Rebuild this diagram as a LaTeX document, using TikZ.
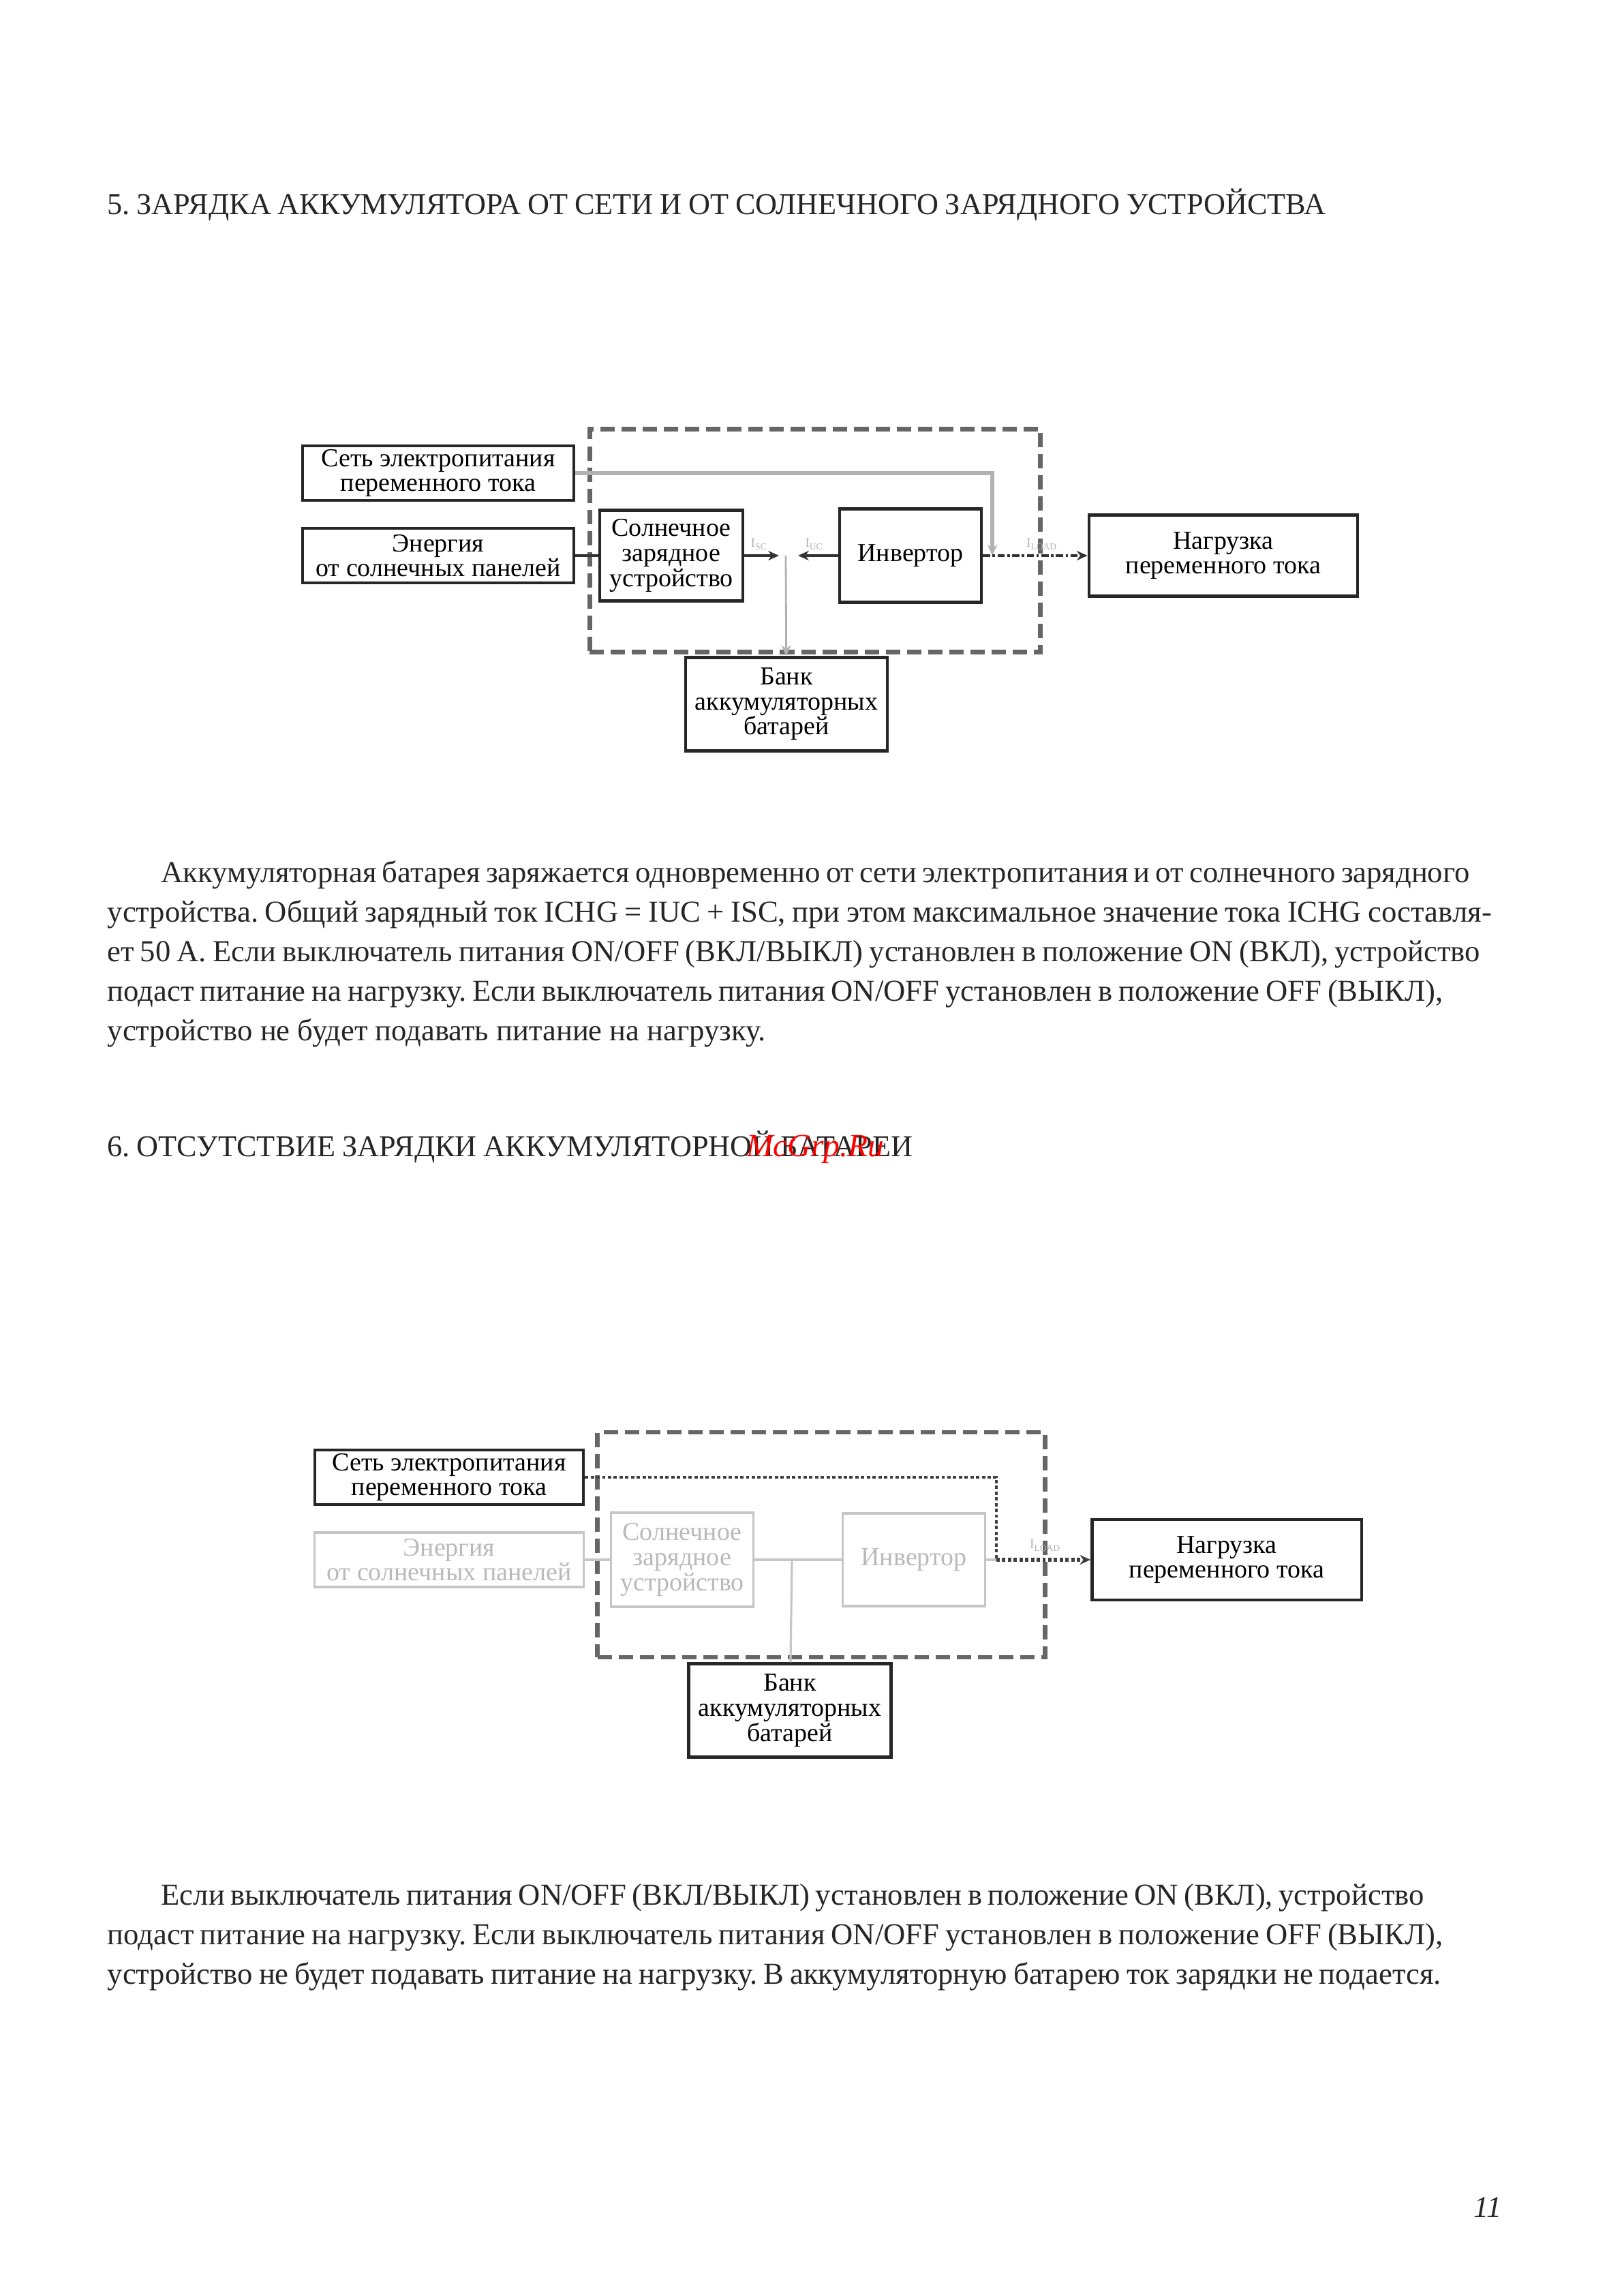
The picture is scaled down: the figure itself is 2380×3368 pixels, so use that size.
\documentclass[tikz,border=0pt]{standalone}
\usepackage{fontspec}
\setmainfont{Liberation Serif}
\usetikzlibrary{arrows.meta,positioning}
\frenchspacing

\begin{document}
\begin{tikzpicture}[x=0.01cm, y=-0.01cm,
  box/.style={rectangle, draw=black!85, line width=1.2pt, align=center,
              inner sep=0pt, font=\fontsize{10.8}{10.4}\selectfont},
  offbox/.style={box, draw=gray!45, text=gray!55, line width=0.9pt},
  frame/.style={rectangle, draw=black!60, line width=1.9pt,
                dash pattern=on 0.21cm off 0.1cm},
  wire/.style={draw=black!80, line width=1.1pt},
  offwire/.style={draw=gray!45, line width=0.9pt},
  fine/.style={draw=gray!60, line width=0.8pt},
  acline/.style={draw=gray!60, line width=1.6pt},
  dotline/.style={draw=black!75, line width=1.4pt, densely dotted},
  arrow/.style={-{Stealth[length=4.5pt,width=4pt]}},
  tag/.style={font=\fontsize{5.5}{6}\selectfont, text=gray!60, inner sep=0pt},
  head/.style={anchor=base west, inner sep=0pt, text=black!85,
               font=\fontsize{12.6}{14}\selectfont},
  txt/.style={anchor=base west, inner sep=0pt, text=black!85,
              font=\fontsize{12.7}{14}\selectfont}
]
  \useasboundingbox (0,0) rectangle (2380,3368);

  % Section 5
  \node[head] (head5) at (157,314)
    {\makebox[17.87cm][s]{5. ЗАРЯДКА АККУМУЛЯТОРА ОТ СЕТИ И ОТ СОЛНЕЧНОГО ЗАРЯДНОГО УСТРОЙСТВА}};

  % Diagram 1
  \node[frame, minimum width=6.61cm, minimum height=3.27cm] (frame1) at (1196,793) {};
  \node[box, minimum width=3.97cm, minimum height=0.80cm] (grid1) at (643,694)
    {Сеть электропитания\\переменного тока};
  \node[box, minimum width=3.97cm, minimum height=0.80cm] (sun1) at (643,815)
    {Энергия\\от солнечных панелей};
  \node[box, minimum width=2.10cm, minimum height=1.33cm] (scc1) at (985,815)
    {Солнечное\\зарядное\\устройство};
  \node[box, minimum width=2.08cm, minimum height=1.37cm] (inv1) at (1336,815) {Инвертор};
  \node[box, minimum width=3.94cm, minimum height=1.19cm] (load1) at (1795,815)
    {Нагрузка\\переменного тока};
  \node[box, minimum width=2.96cm, minimum height=1.37cm] (bank1) at (1154,1033)
    {Банк\\аккумуляторных\\батарей};
  \coordinate (j1) at (1153,815);
  \coordinate (ac1) at (1456,815);

  \draw[wire] (sun1) -- (scc1);
  \draw[wire, arrow, shorten >=0.1cm] (scc1) -- (j1);
  \draw[wire, arrow, shorten >=0.18cm] (inv1) -- (j1);
  \draw[fine, arrow] (j1) -- (bank1);
  \draw[acline, arrow] (grid1.east) -| (ac1);
  \draw[wire, densely dashdotted, arrow] (inv1) -- (load1);
  \node[tag] (isc1) at (1114,798) {I\textsubscript{SC}};
  \node[tag] (iuc1) at (1195,798) {I\textsubscript{UC}};
  \node[tag] (iload1) at (1529,798) {I\textsubscript{LOAD}};

  % Text 5
  \node[txt] (par5a) at (236,1294)
    {\makebox[19.19cm][s]{Аккумуляторная батарея заряжается одновременно от сети электропитания и от солнечного зарядного}};
  \node[txt] (par5b) at (157,1352)
    {\makebox[20.30cm][s]{устройства. Общий зарядный ток ICHG = IUC + ISC, при этом максимальное значение тока ICHG составля-}};
  \node[txt] (par5c) at (157,1410)
    {\makebox[20.13cm][s]{ет 50 А. Если выключатель питания ON/OFF (ВКЛ/ВЫКЛ) установлен в положение ON (ВКЛ), устройство}};
  \node[txt] (par5d) at (157,1468)
    {\makebox[19.59cm][s]{подаст питание на нагрузку. Если выключатель питания ON/OFF установлен в положение OFF (ВЫКЛ),}};
  \node[txt] (par5e) at (157,1526) {устройство не будет подавать питание на нагрузку.};

  % Section 6
  \node[head] (head6) at (157,1696)
    {\makebox[11.81cm][s]{6. ОТСУТСТВИЕ ЗАРЯДКИ АККУМУЛЯТОРНОЙ БАТАРЕИ}};
  \node[text=red, font=\fontsize{13.5}{14}\selectfont\itshape, inner sep=0pt] (mark) at (1196,1686) {McGrp.Ru};

  % Diagram 2
  \node[frame, minimum width=6.56cm, minimum height=3.30cm] (frame2) at (1205,2266) {};
  \node[box, minimum width=3.94cm, minimum height=0.80cm] (grid2) at (659,2167)
    {Сеть электропитания\\переменного тока};
  \node[offbox, minimum width=3.94cm, minimum height=0.80cm] (sun2) at (659,2288)
    {Энергия\\от солнечных панелей};
  \node[offbox, minimum width=2.09cm, minimum height=1.38cm] (scc2) at (1001,2288)
    {Солнечное\\зарядное\\устройство};
  \node[offbox, minimum width=2.09cm, minimum height=1.36cm] (inv2) at (1341,2288) {Инвертор};
  \node[box, minimum width=3.95cm, minimum height=1.18cm] (load2) at (1800,2288)
    {Нагрузка\\переменного тока};
  \node[box, minimum width=2.97cm, minimum height=1.37cm] (bank2) at (1159,2509)
    {Банк\\аккумуляторных\\батарей};
  \coordinate (j2) at (1162,2288);
  \coordinate (ac2) at (1462,2288);

  \draw[offwire] (sun2) -- (scc2);
  \draw[offwire] (scc2) -- (inv2);
  \draw[offwire] (j2) -- (bank2);
  \draw[offwire] (inv2) -- (ac2);
  \draw[dotline] (grid2.east) -| (ac2);
  \draw[dotline, line width=1.9pt, arrow] (ac2) -- (load2);
  \node[tag] (iload2) at (1534,2267) {I\textsubscript{LOAD}};

  % Text 6
  \node[txt] (par6a) at (236,2794)
    {\makebox[18.52cm][s]{Если выключатель питания ON/OFF (ВКЛ/ВЫКЛ) установлен в положение ON (ВКЛ), устройство}};
  \node[txt] (par6b) at (157,2852)
    {\makebox[19.59cm][s]{подаст питание на нагрузку. Если выключатель питания ON/OFF установлен в положение OFF (ВЫКЛ),}};
  \node[txt] (par6c) at (157,2910)
    {\makebox[19.56cm][s]{устройство не будет подавать питание на нагрузку. В аккумуляторную батарею ток зарядки не подается.}};

  \node[txt, font=\fontsize{12.5}{14}\selectfont\itshape] (pnum) at (2162,3252) {11};
\end{tikzpicture}
\end{document}
